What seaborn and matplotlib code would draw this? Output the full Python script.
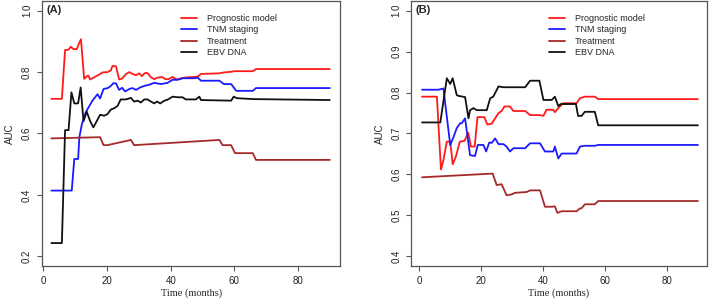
import matplotlib
matplotlib.use("Agg")
import matplotlib.pyplot as plt
import seaborn as sns

# ---- panel A data (time in months, AUC) ----
a_prog_t = [2.5, 5.8, 6.8, 7.9, 8.6, 9.4, 10.5, 11.2, 11.8, 12.8, 13.6, 14.1, 14.7, 15.4, 17.0, 18.6,
            20.2, 21.2, 21.7, 22.8, 23.8, 24.7, 26.0, 27.0, 28.0, 29.1, 30.1, 30.9, 31.9, 32.7, 33.8,
            34.8, 35.9, 37.3, 38.3, 39.3, 40.6, 41.9, 43.7, 45.3, 48.5, 49.5, 55.3, 56.7, 59.0, 60.0,
            65.8, 66.8, 90.0]
a_prog_v = [0.713, 0.713, 0.872, 0.873, 0.883, 0.875, 0.875, 0.894, 0.907, 0.778, 0.786, 0.789, 0.776,
            0.780, 0.789, 0.799, 0.800, 0.806, 0.820, 0.819, 0.776, 0.779, 0.794, 0.800, 0.794, 0.790,
            0.796, 0.787, 0.797, 0.797, 0.783, 0.777, 0.782, 0.784, 0.777, 0.777, 0.784, 0.776, 0.781,
            0.783, 0.785, 0.794, 0.796, 0.799, 0.801, 0.803, 0.803, 0.810, 0.810]

a_tnm_t = [2.5, 8.9, 9.7, 10.9, 11.3, 12.1, 13.3, 15.4, 17.0, 17.8, 18.9, 20.2, 21.2, 22.0, 22.8, 23.8,
           24.7, 25.7, 27.0, 28.0, 29.1, 30.4, 31.7, 33.3, 34.8, 35.9, 36.9, 39.0, 40.6, 42.2, 43.8,
           47.4, 48.5, 49.5, 55.3, 56.7, 59.0, 60.6, 65.8, 66.8, 90.0]
a_tnm_v = [0.414, 0.414, 0.517, 0.517, 0.588, 0.631, 0.669, 0.707, 0.728, 0.714, 0.745, 0.748, 0.755,
           0.764, 0.763, 0.742, 0.749, 0.737, 0.745, 0.748, 0.742, 0.750, 0.755, 0.759, 0.765, 0.763,
           0.761, 0.765, 0.775, 0.775, 0.780, 0.780, 0.782, 0.772, 0.772, 0.761, 0.761, 0.739, 0.739,
           0.748, 0.748]

a_trt_t = [2.5, 17.8, 18.9, 20.1, 27.5, 28.5, 55.3, 56.3, 59.0, 60.2, 65.8, 66.8, 90.0]
a_trt_v = [0.584, 0.588, 0.562, 0.562, 0.579, 0.562, 0.579, 0.562, 0.562, 0.536, 0.536, 0.514, 0.514]

a_ebv_t = [2.5, 5.8, 6.8, 7.9, 8.8, 9.7, 10.9, 11.7, 12.6, 13.6, 14.7, 15.7, 17.0, 17.8, 19.1, 20.1,
           21.2, 22.2, 23.3, 24.3, 25.9, 27.5, 28.5, 29.6, 30.6, 31.7, 32.7, 33.8, 34.8, 35.7, 36.7,
           38.0, 39.0, 40.6, 42.2, 43.7, 44.8, 47.9, 49.0, 49.5, 59.0, 59.8, 60.8, 66.3, 90.0]
a_ebv_v = [0.243, 0.243, 0.611, 0.611, 0.734, 0.698, 0.698, 0.750, 0.640, 0.671, 0.640, 0.620, 0.645,
           0.661, 0.658, 0.663, 0.678, 0.682, 0.690, 0.711, 0.711, 0.716, 0.704, 0.707, 0.701, 0.711,
           0.711, 0.704, 0.698, 0.704, 0.698, 0.707, 0.710, 0.720, 0.718, 0.718, 0.711, 0.711, 0.720,
           0.709, 0.707, 0.720, 0.715, 0.712, 0.709]

# ---- panel B data ----
b_prog_t = [0.9, 5.7, 7.0, 7.8, 8.9, 10.0, 10.8, 11.8, 13.1, 14.6, 15.8, 16.7, 17.9, 18.8, 21.0, 22.0,
            23.4, 24.5, 25.6, 26.6, 27.5, 29.3, 30.4, 34.2, 35.8, 39.0, 40.1, 41.1, 43.3, 43.8, 44.9,
            46.5, 50.8, 51.9, 53.5, 56.7, 57.8, 90.0]
b_prog_v = [0.790, 0.790, 0.612, 0.635, 0.680, 0.680, 0.625, 0.643, 0.680, 0.682, 0.702, 0.668, 0.668,
            0.740, 0.740, 0.722, 0.724, 0.737, 0.750, 0.755, 0.766, 0.766, 0.755, 0.755, 0.745, 0.745,
            0.743, 0.758, 0.758, 0.752, 0.762, 0.774, 0.774, 0.786, 0.790, 0.790, 0.784, 0.784]

b_tnm_t = [0.9, 6.2, 7.8, 10.0, 11.1, 12.1, 13.2, 13.7, 14.8, 15.6, 16.4, 18.0, 18.9, 20.7, 21.6, 22.6,
           23.4, 24.5, 25.6, 27.2, 28.2, 29.3, 30.4, 34.2, 35.8, 39.0, 40.6, 43.3, 43.8, 44.9, 46.0,
           50.8, 51.9, 53.5, 56.7, 57.8, 90.0]
b_tnm_v = [0.807, 0.807, 0.810, 0.672, 0.692, 0.713, 0.725, 0.725, 0.737, 0.692, 0.647, 0.645, 0.672,
           0.672, 0.656, 0.678, 0.677, 0.688, 0.674, 0.674, 0.668, 0.656, 0.664, 0.664, 0.676, 0.676,
           0.656, 0.656, 0.668, 0.639, 0.651, 0.651, 0.668, 0.670, 0.670, 0.672, 0.672]

b_trt_t = [0.9, 23.7, 25.0, 26.6, 28.2, 29.8, 30.9, 34.7, 35.8, 39.0, 40.6, 42.8, 43.8, 44.6, 46.0,
           50.8, 51.9, 52.4, 53.5, 56.7, 57.8, 90.0]
b_trt_v = [0.593, 0.602, 0.574, 0.576, 0.549, 0.551, 0.555, 0.557, 0.561, 0.561, 0.521, 0.521, 0.522,
           0.506, 0.510, 0.510, 0.517, 0.517, 0.527, 0.527, 0.535, 0.535]

b_ebv_t = [0.9, 6.8, 8.9, 10.0, 10.8, 12.1, 12.6, 14.8, 15.9, 16.4, 17.5, 18.6, 21.8, 22.9, 23.9, 25.6,
           27.2, 34.2, 35.8, 38.8, 40.1, 42.8, 43.8, 44.9, 45.7, 50.6, 51.3, 52.4, 53.5, 56.7, 57.8, 90.0]
b_ebv_v = [0.727, 0.727, 0.835, 0.821, 0.835, 0.794, 0.792, 0.789, 0.737, 0.757, 0.762, 0.757, 0.757,
           0.786, 0.790, 0.815, 0.813, 0.813, 0.829, 0.829, 0.782, 0.782, 0.790, 0.767, 0.772, 0.772,
           0.743, 0.743, 0.753, 0.753, 0.720, 0.720]

labels = ["Prognostic model", "TNM staging", "Treatment", "EBV DNA"]
colors = ["#ff1a1a", "#1a1aff", "#a52a2a", "#111111"]

sns.set_style("white")
plt.rcParams["font.family"] = ["Liberation Sans", "DejaVu Sans"]

fig = plt.figure(figsize=(7.09, 3.01), dpi=100)
ax_a = fig.add_axes([0.059, 0.116, 0.421, 0.881])
ax_b = fig.add_axes([0.580, 0.116, 0.417, 0.881])

panels = [
    (ax_a, "(A)", [(a_prog_t, a_prog_v), (a_tnm_t, a_tnm_v), (a_trt_t, a_trt_v), (a_ebv_t, a_ebv_v)],
     (-0.5, 93.3), (0.168, 1.032), [0.2, 0.4, 0.6, 0.8, 1.0], 0.455),
    (ax_b, "(B)", [(b_prog_t, b_prog_v), (b_tnm_t, b_tnm_v), (b_trt_t, b_trt_v), (b_ebv_t, b_ebv_v)],
     (-2.6, 92.9), (0.376, 1.024), [0.4, 0.5, 0.6, 0.7, 0.8, 0.9, 1.0], 0.455),
]

for ax, tag, series, xlim, ylim, yticks, leg_x in panels:
    for (t, v), lab, col in zip(series, labels, colors):
        sns.lineplot(x=t, y=v, ax=ax, color=col, label=lab, linewidth=1.3,
                     estimator=None, sort=False)
    ax.set_xlim(*xlim)
    ax.set_ylim(*ylim)
    ax.set_xticks([0, 20, 40, 60, 80])
    ax.set_yticks(yticks)
    ax.set_yticklabels([f"{y:.1f}" for y in yticks], rotation=90, va="center")
    ax.tick_params(axis="both", direction="out", length=3.5, width=0.8, color="#555555",
                   labelsize=7, labelcolor="#222222", pad=3.5, left=True, bottom=True)
    for s in ax.spines.values():
        s.set_color("#555555")
        s.set_linewidth(0.9)
    ax.set_xlabel("Time (months)", family="Liberation Serif", fontsize=7.5, labelpad=2)
    ax.set_ylabel("AUC", fontsize=7, labelpad=5)
    ax.text(0.014, 0.985, tag, transform=ax.transAxes, fontsize=8, fontweight="bold",
            ha="left", va="top")
    ax.legend(loc="upper left", bbox_to_anchor=(leg_x, 0.965), frameon=False, fontsize=6.5,
              handlelength=1.7, handletextpad=1.1, labelspacing=0.28, borderaxespad=0)

fig.savefig("out.png", dpi=100)
